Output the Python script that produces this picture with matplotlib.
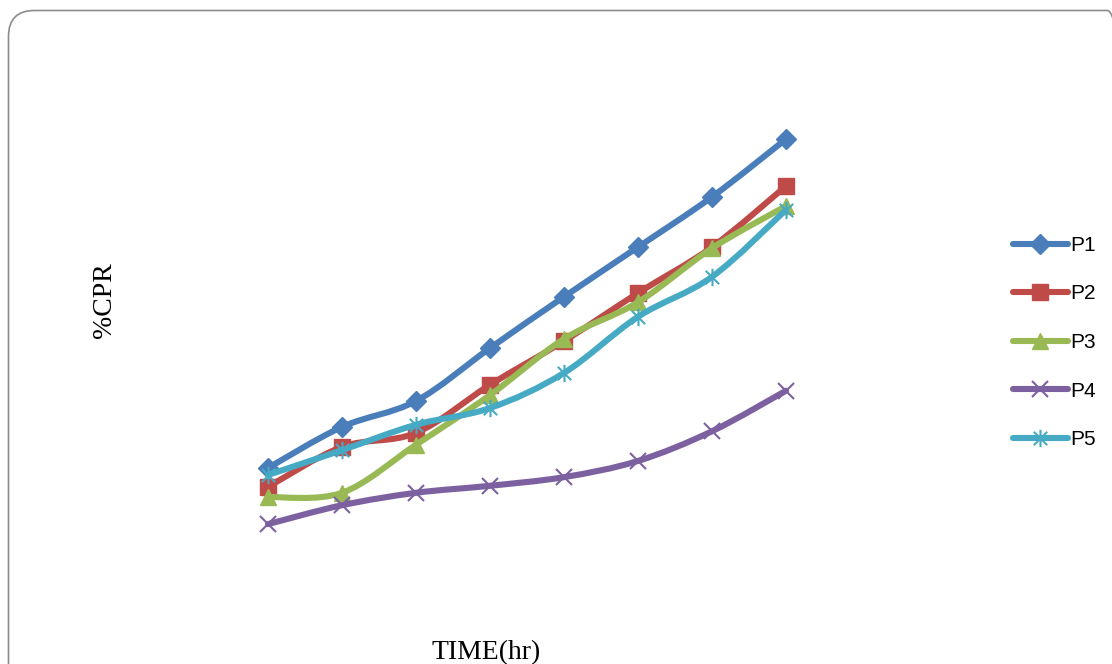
import matplotlib
matplotlib.use("Agg")
import matplotlib.pyplot as plt
import matplotlib.patches as mpatches
import matplotlib.transforms as mtransforms
from matplotlib.path import Path
import numpy as np

# time points (hr) and %CPR values (no axis ticks shown)
time_hr = [0, 1, 2, 3, 4, 5, 6, 7]
p1 = [22.6, 30.2, 35.0, 44.8, 54.3, 63.5, 72.8, 83.5]
p2 = [19.1, 26.5, 29.1, 38.0, 46.1, 55.0, 63.5, 74.8]
p3 = [17.2, 18.0, 26.9, 36.1, 46.5, 53.3, 63.3, 71.1]
p4 = [12.2, 15.7, 18.0, 19.3, 20.9, 23.9, 29.4, 36.9]
p5 = [21.3, 25.9, 30.6, 33.7, 40.2, 50.6, 58.0, 70.4]
labels = ["P1", "P2", "P3", "P4", "P5"]

colors = ["#4A7EBB", "#BE4B48", "#98B954", "#7D60A0", "#46AAC5"]

# excel style asterisk marker
star = Path([(-1, -1), (1, 1), (-1, 1), (1, -1), (0, -1.3), (0, 1.3)],
            [Path.MOVETO, Path.LINETO, Path.MOVETO, Path.LINETO, Path.MOVETO, Path.LINETO])
markers = ["D", "s", "^", "x", star]
msizes = [10, 11, 12, 11, 12.5]


def smooth_path(x, y, t=1/6.):
    # cubic bezier through the points (excel "smoothed line")
    x = np.asarray(x, float)
    y = np.asarray(y, float)
    n = len(x)
    verts = [(x[0], y[0])]
    codes = [Path.MOVETO]
    for i in range(n - 1):
        i0 = max(i - 1, 0)
        i3 = min(i + 2, n - 1)
        c1 = (x[i] + (x[i + 1] - x[i0]) * t, y[i] + (y[i + 1] - y[i0]) * t)
        c2 = (x[i + 1] - (x[i3] - x[i]) * t, y[i + 1] - (y[i3] - y[i]) * t)
        verts += [c1, c2, (x[i + 1], y[i + 1])]
        codes += [Path.CURVE4] * 3
    return Path(verts, codes)


fig = plt.figure(figsize=(11.12, 6.64), dpi=100)
ax = fig.add_axes([231 / 1112, 74 / 664, 592 / 1112, 540 / 664])
ax.set_xlim(-0.5, 7.5)
ax.set_ylim(0, 100)
ax.axis("off")

series = [p1, p2, p3, p4, p5]
for k in range(5):
    vals = series[k]
    c = colors[k]
    pp = mpatches.PathPatch(smooth_path(time_hr, vals), facecolor="none", edgecolor=c,
                            lw=4.4, capstyle="round", joinstyle="round", zorder=2 + k)
    ax.add_patch(pp)
    if k >= 3:
        ax.plot(time_hr, vals, linestyle="none", marker=markers[k], ms=msizes[k],
                mec=c, mfc="none", mew=1.5, zorder=2.5 + k)
    else:
        ax.plot(time_hr, vals, linestyle="none", marker=markers[k], ms=msizes[k],
                mec=c, mfc=c, zorder=2.5 + k)

# legend handles
handles = []
for k in range(5):
    if k >= 3:
        h = plt.Line2D([], [], color=colors[k], lw=4.4, marker=markers[k], ms=msizes[k],
                       mec=colors[k], mfc="none", mew=1.5, solid_capstyle="round")
    else:
        h = plt.Line2D([], [], color=colors[k], lw=4.4, marker=markers[k], ms=msizes[k],
                       mec=colors[k], mfc=colors[k], solid_capstyle="round")
    handles.append(h)
leg = fig.legend(handles, labels, loc="center left", bbox_to_anchor=(1005 / 1112, 1 - 342.5 / 664),
                 frameon=False, prop={"family": "Liberation Sans", "size": 15},
                 handlelength=2.6, handletextpad=0.15, labelspacing=1.42, borderaxespad=0)

fig.text(105 / 1112, 1 - 300 / 664, "%CPR", rotation=90, ha="center", va="center",
         family="Liberation Serif", fontsize=20)
fig.text(486 / 1112, 1 - 653 / 664, "TIME(hr)", ha="center", va="center",
         family="Liberation Serif", fontsize=20)

# rounded chart border, cut off on right and bottom like the picture
border = mpatches.FancyBboxPatch((8.5, -40), 1125, 664 - 10.5 + 40,
                                 boxstyle="round,pad=0,rounding_size=26",
                                 transform=mtransforms.IdentityTransform(),
                                 facecolor="none", edgecolor="#8c8c8c", lw=1.2)
fig.add_artist(border)

fig.savefig("out.png", dpi=100)
